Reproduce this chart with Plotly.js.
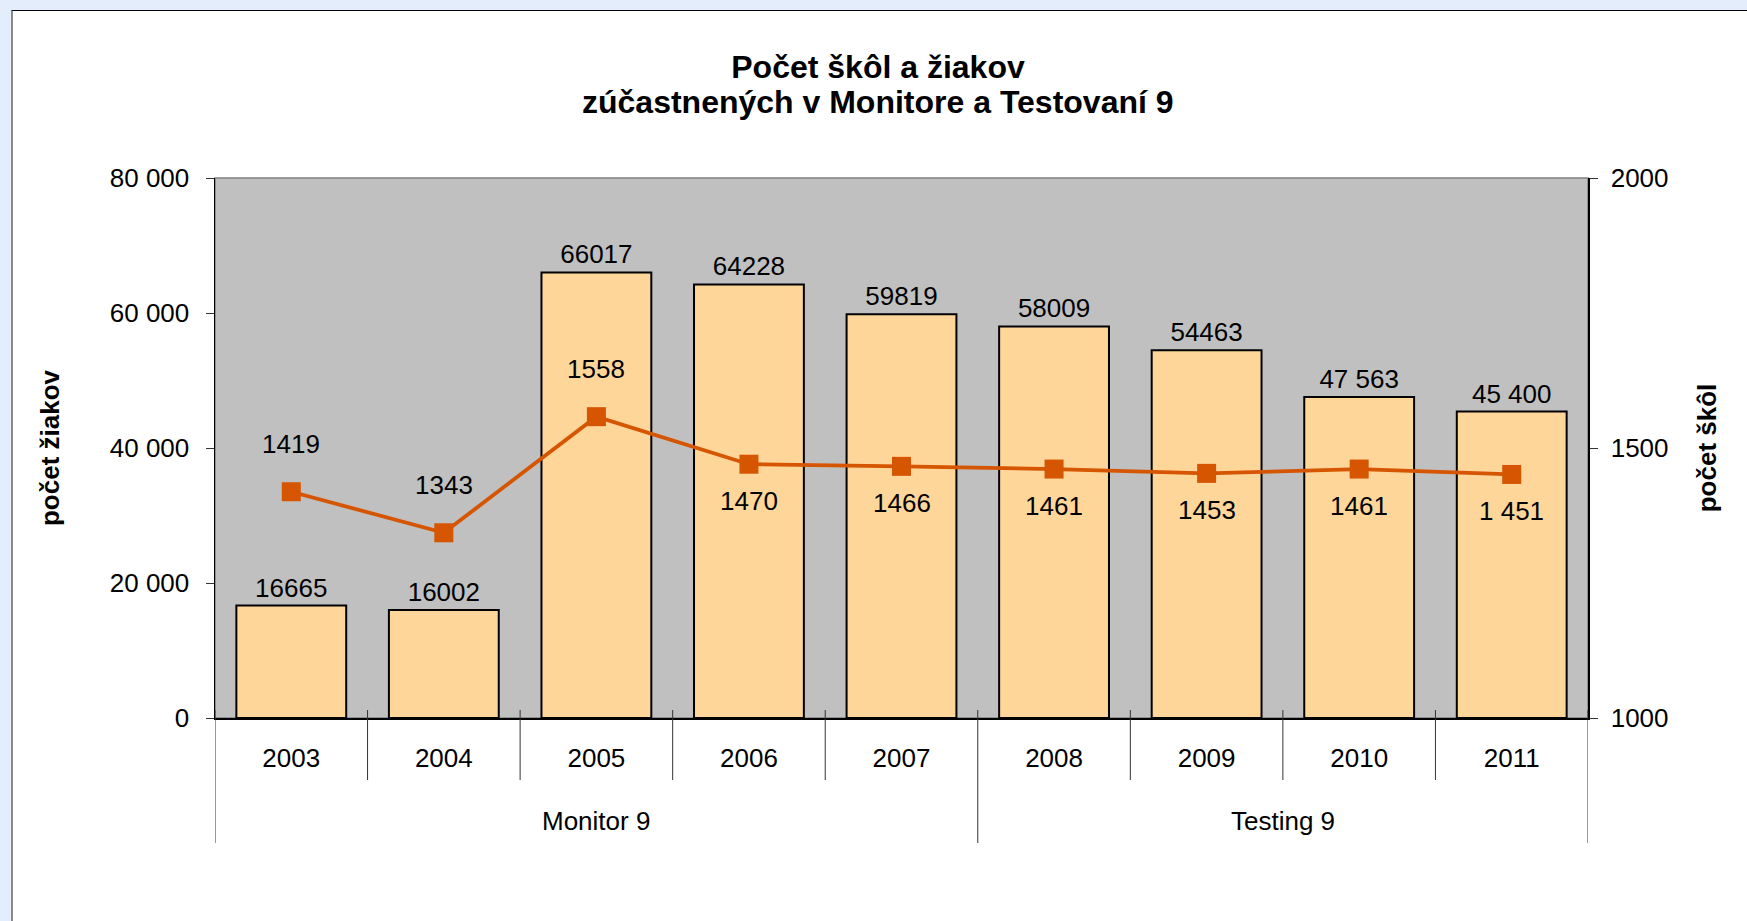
<!DOCTYPE html>
<html>
<head>
<meta charset="utf-8">
<script src="https://cdn.plot.ly/plotly-3.0.1.min.js"></script>
<style>
  html, body { margin:0; padding:0; width:1747px; height:921px; overflow:hidden; background:#E3EDFB; }
  #frame { position:absolute; left:11px; top:10px; width:1740px; height:920px; background:#ffffff;
           border-top:1px solid #000000; border-left:2px solid #8a8a8a; box-sizing:border-box; }
  #chart { position:absolute; left:0; top:0; width:1747px; height:921px; }
</style>
</head>
<body>
<div id="frame"></div>
<div id="chart"></div>
<script>
// ---- data ----
const years = ['2003','2004','2005','2006','2007','2008','2009','2010','2011'];
const groups = ['Monitor 9','Monitor 9','Monitor 9','Monitor 9','Monitor 9','Testing 9','Testing 9','Testing 9','Testing 9'];
const students = [16665, 16002, 66017, 64228, 59819, 58009, 54463, 47563, 45400];
const studentLabels = ['16665','16002','66017','64228','59819','58009','54463','47 563','45 400'];
const schools = [1419, 1343, 1558, 1470, 1466, 1461, 1453, 1461, 1451];
const schoolLabels = ['1419','1343','1558','1470','1466','1461','1453','1461','1 451'];
const schoolLabelAbove = [true, true, true, false, false, false, false, false, false];

const FONT = 'Liberation Sans, Arial, sans-serif';
const FS = 26;
const plotH = 921 - 178 - 203;
const idx = years.map((_, i) => i);

const bars = {
  type: 'bar', x: idx, y: students, name: 'počet žiakov',
  marker: { color: '#FFD699', line: { color: '#000000', width: 2 } },
  text: studentLabels, textposition: 'outside', cliponaxis: false,
  textfont: { family: FONT, size: FS, color: '#000000' },
  hoverinfo: 'y'
};
const line = {
  type: 'scatter', mode: 'lines+markers', x: idx, y: schools, yaxis: 'y2', name: 'počet škôl',
  line: { color: '#D55500', width: 3.8 },
  marker: { symbol: 'square', size: 19, color: '#D55500' },
  cliponaxis: false
};

const annotations = schools.map((v, i) => ({
  xref: 'x', yref: 'y2', x: i, y: v, text: schoolLabels[i], showarrow: false,
  yshift: schoolLabelAbove[i] ? 48 : -37,
  font: { family: FONT, size: FS, color: '#000000' }
}));

// second title line
annotations.push({
  xref: 'paper', yref: 'paper', x: (878 - 215) / (1747 - 215 - 159), xanchor: 'center',
  y: 1 + (178 - 102) / plotH, yanchor: 'middle', showarrow: false,
  text: '<b>zúčastnených v Monitore a Testovaní 9</b>',
  font: { family: FONT, size: 32, color: '#000000' }
});

// group labels centred on their category span
const uniqueGroups = [...new Set(groups)];
uniqueGroups.forEach(g => {
  const members = groups.map((gg, i) => gg === g ? i : -1).filter(i => i >= 0);
  const mid = (members[0] + members[members.length - 1]) / 2;
  annotations.push({
    xref: 'x', yref: 'paper', x: mid, y: -(821 - 718) / plotH, yanchor: 'middle',
    text: g, showarrow: false, font: { family: FONT, size: FS, color: '#000000' }
  });
});

// category boundary lines (axis decoration)
const shapes = [{
  type: 'rect', xref: 'paper', yref: 'paper', x0: 0, x1: 1, y0: 0, y1: 1,
  line: { color: '#808080', width: 1.5 }, layer: 'below'
}];
for (let i = 0; i <= years.length; i++) {
  const isGroupEdge = (i === 0 || i === years.length || groups[i] !== groups[i - 1]);
  shapes.push({
    type: 'line', xref: 'x', yref: 'paper', x0: i - 0.5, x1: i - 0.5,
    y0: 8 / plotH, y1: -(isGroupEdge ? 125 : 62) / plotH,
    line: { color: '#333333', width: 1 }
  });
}

const layout = {
  width: 1747, height: 921,
  margin: { l: 215, r: 159, t: 178, b: 203, pad: 0 },
  paper_bgcolor: 'rgba(0,0,0,0)', plot_bgcolor: '#C0C0C0',
  separators: ', ',
  font: { family: FONT, size: FS, color: '#000000' },
  showlegend: false,
  bargap: 0.28,
  title: {
    text: '<b>Počet škôl a žiakov</b>',
    font: { family: FONT, size: 32, color: '#000000' },
    x: 878 / 1747, xanchor: 'center', xref: 'container',
    y: 1 - 67 / 921, yanchor: 'middle', yref: 'container'
  },
  xaxis: {
    type: 'linear', range: [-0.5, years.length - 0.5], autorange: false,
    tickmode: 'array', tickvals: idx, ticktext: years,
    showgrid: false, zeroline: false,
    showline: true, linecolor: '#000000', linewidth: 1.5,
    ticks: 'outside', ticklen: 16, tickcolor: 'rgba(0,0,0,0)',
    tickfont: { family: FONT, size: FS, color: '#000000' }
  },
  yaxis: {
    range: [0, 80000], autorange: false, dtick: 20000, tickformat: ',d',
    showgrid: false, zeroline: false,
    showline: true, linecolor: '#000000', linewidth: 1.5,
    ticks: 'outside', ticklen: 8, tickcolor: '#333333', ticklabelstandoff: 11,
    tickfont: { family: FONT, size: FS, color: '#000000' },
    title: { text: '<b>počet žiakov</b>', font: { family: FONT, size: FS, color: '#000000' }, standoff: 42 }
  },
  yaxis2: {
    overlaying: 'y', side: 'right', range: [1000, 2000], autorange: false, dtick: 500, tickformat: 'd',
    showgrid: false, zeroline: false,
    showline: true, linecolor: '#000000', linewidth: 1.5,
    ticks: 'outside', ticklen: 8, tickcolor: '#333333', ticklabelstandoff: 8,
    tickfont: { family: FONT, size: FS, color: '#000000' },
    title: { text: '<b>počet škôl</b>', font: { family: FONT, size: FS, color: '#000000' }, standoff: 30 }
  },
  annotations: annotations,
  shapes: shapes
};

Plotly.newPlot('chart', [bars, line], layout, { displayModeBar: false, staticPlot: true });
</script>
</body>
</html>
